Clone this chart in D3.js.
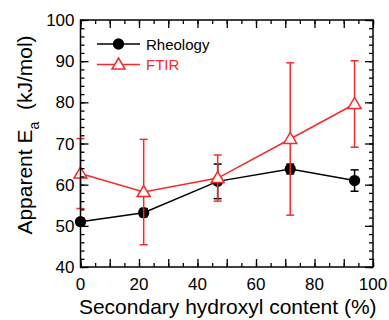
<!DOCTYPE html>
<html>
<head>
<meta charset="utf-8">
<script src="https://cdn.jsdelivr.net/npm/d3@7"></script>
<style>
  body { margin: 0; background: #fff; }
  svg { font-family: "Liberation Sans", Arial, sans-serif; }
</style>
</head>
<body>
<div></div>
<script>
// data
const content = [0, 21.6, 46.9, 71.7, 93.7];
const rheology = [51.0, 53.2, 60.8, 63.8, 61.0];
const rheologyErr = [0.8, 1.0, 4.2, 1.2, 2.6];
const ftir = [62.7, 58.2, 61.6, 71.1, 79.6];
const ftirErr = [8.5, 12.8, 5.6, 18.5, 10.5];
const xTicks = [0, 20, 40, 60, 80, 100];
const yTicks = [40, 50, 60, 70, 80, 90, 100];
const red = "#f52a2a";

const width = 389, height = 320;
const mLeft = 80.5, mRight = 373, mTop = 20, mBottom = 267;

const svg = d3.select("div")
    .append("svg")
    .attr("width", width)
    .attr("height", height);

const x = d3.scaleLinear().domain([0, 100]).range([mLeft, mRight]);
const y = d3.scaleLinear().domain([40, 100]).range([mBottom, mTop]);

// draw one series: line, error bars, markers
function series(vals, errs, color, marker) {
    const g = svg.append("g");
    const pts = content.map((c, i) => ({ x: c, y: vals[i], e: errs[i] }));
    g.append("path")
        .datum(pts)
        .attr("fill", "none")
        .attr("stroke", color)
        .attr("stroke-width", 1.5)
        .attr("d", d3.line().x(d => x(d.x)).y(d => y(d.y)));
    const eb = g.selectAll(".eb").data(pts).enter().append("g");
    eb.append("line")
        .attr("x1", d => x(d.x)).attr("x2", d => x(d.x))
        .attr("y1", d => y(d.y - d.e)).attr("y2", d => y(d.y + d.e))
        .attr("stroke", color).attr("stroke-width", 1.5);
    [-1, 1].forEach(s => {
        eb.append("line")
            .attr("x1", d => x(d.x) - 4).attr("x2", d => x(d.x) + 4)
            .attr("y1", d => y(d.y + s * d.e)).attr("y2", d => y(d.y + s * d.e))
            .attr("stroke", color).attr("stroke-width", 1.5);
    });
    g.selectAll(".mk").data(pts).enter().append("path")
        .attr("transform", d => `translate(${x(d.x)},${y(d.y)})`)
        .call(marker);
}

function circleMark(sel) {
    sel.attr("d", d3.symbol(d3.symbolCircle, 100)())
        .attr("fill", "#000");
}
function triMark(sel) {
    sel.attr("d", "M0,-6.5L6.5,4.5L-6.5,4.5Z")
        .attr("fill", "#fff")
        .attr("stroke", red)
        .attr("stroke-width", 1.5);
}

series(rheology, rheologyErr, "#000", circleMark);
series(ftir, ftirErr, red, triMark);

// axes with inward ticks on all four sides
function addAxis(axis, tr) {
    const g = svg.append("g").attr("transform", tr).call(axis);
    g.select(".domain").remove();
    g.selectAll("line").attr("stroke", "#000").attr("stroke-width", 1.3);
    return g;
}
const xMinor = d3.range(0, 101, 5);
const yMinor = d3.range(40, 101, 2);

addAxis(d3.axisBottom(x).tickValues(xMinor).tickSize(-4).tickFormat(""), `translate(0,${mBottom})`);
addAxis(d3.axisBottom(x).tickValues(d3.range(0, 101, 10)).tickSize(-8).tickFormat(""), `translate(0,${mBottom})`);
addAxis(d3.axisTop(x).tickValues(xMinor).tickSize(-4).tickFormat(""), `translate(0,${mTop})`);
addAxis(d3.axisTop(x).tickValues(d3.range(0, 101, 10)).tickSize(-8).tickFormat(""), `translate(0,${mTop})`);
addAxis(d3.axisLeft(y).tickValues(yMinor).tickSize(-4).tickFormat(""), `translate(${mLeft},0)`);
addAxis(d3.axisLeft(y).tickValues(yTicks).tickSize(-8).tickFormat(""), `translate(${mLeft},0)`);
addAxis(d3.axisRight(y).tickValues(yMinor).tickSize(-4).tickFormat(""), `translate(${mRight},0)`);
addAxis(d3.axisRight(y).tickValues(yTicks).tickSize(-8).tickFormat(""), `translate(${mRight},0)`);

svg.append("rect")
    .attr("x", mLeft).attr("y", mTop)
    .attr("width", mRight - mLeft).attr("height", mBottom - mTop)
    .attr("fill", "none").attr("stroke", "#000").attr("stroke-width", 1.5);

// tick labels
svg.selectAll(".xl").data(xTicks).enter().append("text")
    .attr("x", d => x(d)).attr("y", 290)
    .attr("text-anchor", "middle").attr("font-size", 17)
    .text(d => d);
svg.selectAll(".yl").data(yTicks).enter().append("text")
    .attr("x", mLeft - 6).attr("y", d => y(d) + 6)
    .attr("text-anchor", "end").attr("font-size", 17)
    .text(d => d);

// titles
svg.append("text")
    .attr("x", (mLeft + mRight) / 2 + 1).attr("y", 314)
    .attr("text-anchor", "middle").attr("font-size", 21)
    .text("Secondary hydroxyl content (%)");
const yt = svg.append("text")
    .attr("transform", "translate(32,135) rotate(-90)")
    .attr("text-anchor", "middle").attr("font-size", 21);
yt.append("tspan").text("Apparent E");
yt.append("tspan").attr("font-size", 14).attr("dy", 7).text("a");
yt.append("tspan").attr("dy", -7).text("\u00a0 (kJ/mol)");

// legend
const legend = [
    { name: "Rheology", color: "#000", marker: circleMark, ly: 44 },
    { name: "FTIR", color: red, marker: triMark, ly: 64.5 }
];
legend.forEach(l => {
    svg.append("line")
        .attr("x1", 97).attr("x2", 140).attr("y1", l.ly).attr("y2", l.ly)
        .attr("stroke", l.color).attr("stroke-width", 1.5);
    svg.append("path")
        .attr("transform", `translate(118.5,${l.ly})`)
        .call(l.marker);
    svg.append("text")
        .attr("x", 146).attr("y", l.ly + 5.5)
        .attr("font-size", 15).attr("fill", l.color)
        .text(l.name);
});
</script>
</body>
</html>
